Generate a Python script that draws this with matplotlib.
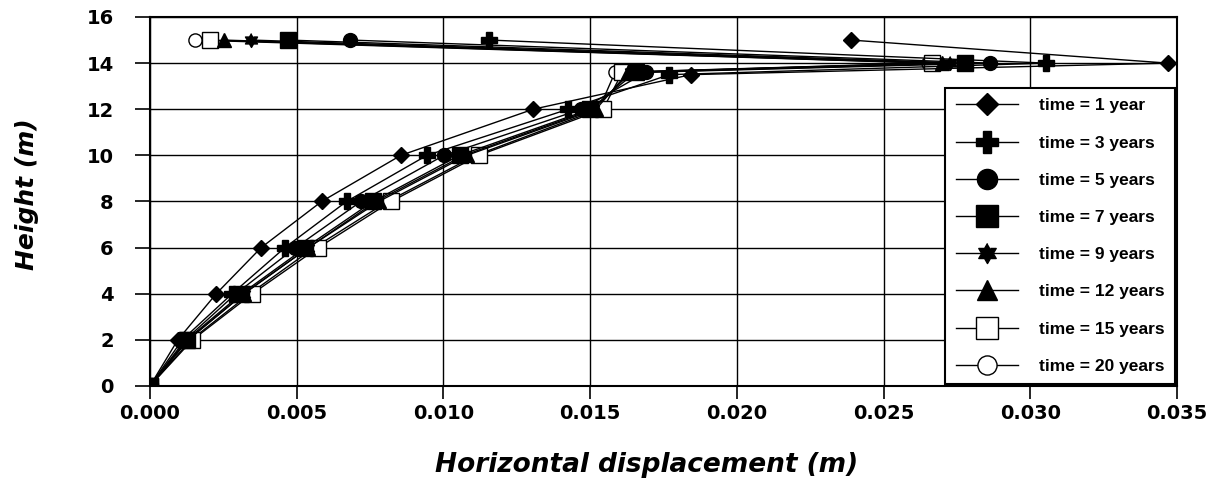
import numpy as np
import matplotlib
matplotlib.use("Agg")
import matplotlib.pyplot as plt

plt.rcParams['font.family'] = ['DejaVu Sans']

# node heights along the wall (m)
heights = [0, 2, 4, 6, 8, 10, 12, 13.6, 14, 15]
# the knee node sits slightly lower for the two earliest curves
knee_height = [13.5, 13.5, 13.6, 13.6, 13.6, 13.6, 13.6, 13.6]

labels = ["time = 1 year", "time = 3 years", "time = 5 years", "time = 7 years",
          "time = 9 years", "time = 12 years", "time = 15 years", "time = 20 years"]

# horizontal displacement (m) at each node
disp_1y = [0, 0.00095, 0.00226, 0.00379, 0.00585, 0.00855, 0.01306, 0.01844, 0.03469, 0.02389]
disp_3y = [0, 0.0011, 0.0028, 0.0046, 0.0067, 0.00944, 0.01425, 0.0177, 0.03054, 0.01157]
disp_5y = [0, 0.0012, 0.00293, 0.00496, 0.00719, 0.01002, 0.0147, 0.0169, 0.02864, 0.00683]
disp_7y = [0, 0.00125, 0.00312, 0.0053, 0.0076, 0.01055, 0.0150, 0.01655, 0.02778, 0.0047]
disp_9y = [0, 0.0013, 0.0032, 0.0054, 0.0077, 0.0107, 0.0151, 0.0164, 0.02725, 0.00346]
disp_12y = [0, 0.0013, 0.0032, 0.0054, 0.0078, 0.0108, 0.0152, 0.0163, 0.0270, 0.00251]
disp_15y = [0, 0.00145, 0.00349, 0.00574, 0.00822, 0.01121, 0.01544, 0.0161, 0.02666, 0.00203]
disp_20y = [0, 0.0014, 0.0034, 0.0056, 0.0081, 0.0111, 0.0153, 0.01585, 0.0265, 0.00154]

series = [disp_1y, disp_3y, disp_5y, disp_7y, disp_9y, disp_12y, disp_15y, disp_20y]

# six-pointed star (two overlapping triangles)
ang = np.pi / 2 + np.arange(12) * np.pi / 6
rad = np.where(np.arange(12) % 2 == 0, 1.0, 0.577)
hexagram = list(zip(rad * np.cos(ang), rad * np.sin(ang)))

styles = [
    dict(marker='D', ms=8, mfc='black'),
    dict(marker='P', ms=11, mfc='black'),
    dict(marker='o', ms=10, mfc='black'),
    dict(marker='s', ms=11, mfc='black'),
    dict(marker=hexagram, ms=10, mfc='black'),
    dict(marker='^', ms=10, mfc='black'),
    dict(marker='s', ms=11, mfc='white', mew=1.0),
    dict(marker='o', ms=9.5, mfc='white', mew=1.0),
]

fig = plt.figure(figsize=(12.19, 4.84), dpi=100)
ax = fig.add_axes([0.123, 0.2025, 0.8425, 0.7624])

# earlier times drawn on top of later ones
for i, x in enumerate(series):
    y = list(heights)
    y[7] = knee_height[i]
    ax.plot(x, y, color='black', lw=1.0, mec='black', label=labels[i],
            zorder=20 - i, **styles[i])

ax.set_xlim(0, 0.035)
ax.set_ylim(0, 16)
xt = np.arange(0, 0.0351, 0.005)
ax.set_xticks(xt)
ax.set_yticks(np.arange(0, 17, 2))
ax.set_xticklabels([f"{v:.3f}" for v in xt])
ax.grid(True, color='black', lw=1.0)
ax.set_axisbelow(True)
for s in ax.spines.values():
    s.set_linewidth(1.5)
    s.set_zorder(30)
ax.tick_params(axis='x', direction='out', length=9, width=1.2, labelsize=14, pad=4)
ax.tick_params(axis='y', direction='out', length=11, width=1.2, labelsize=14, pad=15)
for t in ax.get_xticklabels() + ax.get_yticklabels():
    t.set_fontweight('bold')

ax.set_xlabel("Horizontal displacement (m)", fontsize=19, fontweight='bold',
              fontstyle='italic')
ax.set_ylabel("Height (m)", fontsize=18, fontweight='bold', fontstyle='italic')
ax.xaxis.set_label_coords(0.484, -0.18)
ax.yaxis.set_label_coords(-0.108, 0.52)

leg = ax.legend(loc='lower right', bbox_to_anchor=(1.0, 0.0), borderaxespad=0.1,
                markerscale=1.45, handlelength=3.6, labelspacing=1.27,
                borderpad=0.6, handletextpad=1.2, fancybox=False,
                framealpha=1, edgecolor='black',
                prop=dict(family='Liberation Sans', weight='bold', size=12.5))
leg.get_frame().set_linewidth(1.5)
leg.set_zorder(40)

fig.savefig("out.png", dpi=100)
